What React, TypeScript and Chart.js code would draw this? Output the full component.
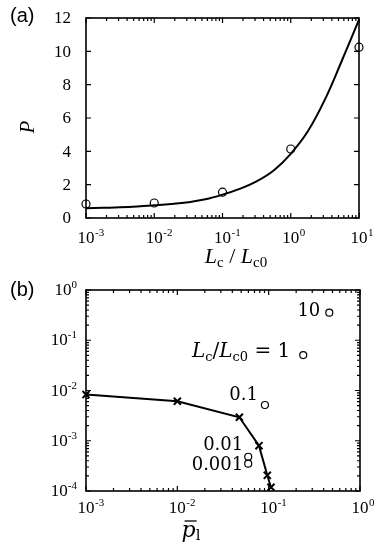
import React, { useEffect, useRef } from "react";
import { Chart, registerables } from "chart.js";
Chart.register(...registerables);

// ---------- Panel (a) data ----------
const curveRatio = [0.001, 0.00178, 0.00316, 0.00562, 0.01, 0.0178, 0.0316, 0.0562, 0.1, 0.178, 0.316, 0.562, 1, 1.78, 3.16, 5.62, 10];
const curveP = [0.58, 0.61, 0.64, 0.69, 0.76, 0.84, 0.95, 1.12, 1.4, 1.75, 2.2, 2.85, 3.85, 5.2, 7.1, 9.45, 11.9];
const markRatio = [0.001, 0.01, 0.1, 1, 10];
const markP = [0.84, 0.9, 1.55, 4.14, 10.25];
const aYTicks = [0, 2, 4, 6, 8, 10, 12];
const aXDecades = [-3, -2, -1, 0, 1];

// ---------- Panel (b) data ----------
const crossP1 = [0.001, 0.01, 0.0478, 0.0783, 0.0966, 0.106];
const crossPc = [0.0083, 0.0061, 0.00293, 0.000797, 0.000205, 0.000119];
const circleP1 = [0.0597, 0.0597, 0.091, 0.239, 0.461];
const circlePc = [0.00035, 0.00048, 0.00514, 0.0508, 0.354];
const circleLabels = ["0.001", "0.01", "0.1", "1", "10"];
const bXDecades = [-3, -2, -1, 0];
const bYDecades = [-4, -3, -2, -1, 0];

const TICK_FONT = '17px "Liberation Serif"';
const EXP_FONT = '11px "Liberation Serif"';
const ANN = '"DejaVu Serif"';

type Piece = { t: string; font: string; dy?: number; bar?: boolean };

function richWidth(ctx: CanvasRenderingContext2D, pieces: Piece[]) {
  let w = 0;
  for (const p of pieces) {
    ctx.font = p.font;
    w += ctx.measureText(p.t).width;
  }
  return w;
}

function drawRich(
  ctx: CanvasRenderingContext2D,
  pieces: Piece[],
  x: number,
  y: number,
  align: "left" | "center" | "right"
) {
  const w = richWidth(ctx, pieces);
  let cx = align === "left" ? x : align === "center" ? x - w / 2 : x - w;
  ctx.textAlign = "left";
  ctx.textBaseline = "alphabetic";
  for (const p of pieces) {
    ctx.font = p.font;
    const pw = ctx.measureText(p.t).width;
    ctx.fillText(p.t, cx, y + (p.dy || 0));
    if (p.bar) {
      ctx.save();
      ctx.lineWidth = 1.3;
      ctx.beginPath();
      ctx.moveTo(cx + 3, y - 16);
      ctx.lineTo(cx + pw + 1, y - 16);
      ctx.stroke();
      ctx.restore();
    }
    cx += pw;
  }
}

function logTicks(decades: number[]) {
  const out: { v: number; major: boolean }[] = [];
  for (let i = 0; i < decades.length; i++) {
    const base = Math.pow(10, decades[i]);
    out.push({ v: base, major: true });
    if (i < decades.length - 1) {
      for (let k = 2; k <= 9; k++) out.push({ v: k * base, major: false });
    }
  }
  return out;
}

function drawFrameAndTicks(
  chart: any,
  xt: { v: number; major: boolean }[],
  yt: { v: number; major: boolean }[]
) {
  const ctx: CanvasRenderingContext2D = chart.ctx;
  const { left, right, top, bottom } = chart.chartArea;
  const xs = chart.scales.x;
  const ys = chart.scales.y;
  ctx.save();
  ctx.strokeStyle = "#000";
  ctx.lineWidth = 1.2;
  ctx.beginPath();
  for (const t of xt) {
    const px = xs.getPixelForValue(t.v);
    const len = t.major ? 5 : 3;
    ctx.moveTo(px, bottom);
    ctx.lineTo(px, bottom - len);
    ctx.moveTo(px, top);
    ctx.lineTo(px, top + len);
  }
  for (const t of yt) {
    const py = ys.getPixelForValue(t.v);
    const len = t.major ? 5 : 3;
    ctx.moveTo(left, py);
    ctx.lineTo(left + len, py);
    ctx.moveTo(right, py);
    ctx.lineTo(right - len, py);
  }
  ctx.stroke();
  ctx.lineWidth = 1.6;
  ctx.strokeRect(left, top, right - left, bottom - top);
  ctx.restore();
}

function drawPowerLabelX(ctx: CanvasRenderingContext2D, x: number, y: number, e: number) {
  ctx.font = TICK_FONT;
  const w = ctx.measureText("10").width;
  ctx.textAlign = "left";
  ctx.textBaseline = "alphabetic";
  ctx.fillText("10", x - w / 2, y);
  ctx.font = EXP_FONT;
  ctx.fillText(String(e), x + w / 2 + 0.5, y - 7);
}

function drawPowerLabelY(ctx: CanvasRenderingContext2D, xr: number, y: number, e: number) {
  const pieces: Piece[] = [
    { t: "10", font: TICK_FONT },
    { t: String(e), font: EXP_FONT, dy: -7 },
  ];
  drawRich(ctx, pieces, xr, y, "right");
}

const panelAPlugin = {
  id: "panelA",
  beforeDatasetsDraw(chart: any) {
    drawFrameAndTicks(
      chart,
      logTicks(aXDecades),
      aYTicks.map((v) => ({ v, major: true }))
    );
  },
  afterDraw(chart: any) {
    const ctx: CanvasRenderingContext2D = chart.ctx;
    const { left, bottom } = chart.chartArea;
    const xs = chart.scales.x;
    const ys = chart.scales.y;
    ctx.save();
    ctx.fillStyle = "#000";
    ctx.font = TICK_FONT;
    ctx.textAlign = "right";
    ctx.textBaseline = "middle";
    for (const v of aYTicks) ctx.fillText(String(v), left - 15, ys.getPixelForValue(v) + 1);
    for (const e of aXDecades) drawPowerLabelX(ctx, xs.getPixelForValue(Math.pow(10, e)), bottom + 25, e);
    drawRich(
      ctx,
      [
        { t: "L", font: 'italic 22px "Liberation Serif"' },
        { t: "c", font: '15px "Liberation Serif"', dy: 4 },
        { t: " / ", font: '22px "Liberation Serif"' },
        { t: "L", font: 'italic 22px "Liberation Serif"' },
        { t: "c0", font: '15px "Liberation Serif"', dy: 4 },
      ],
      236,
      bottom + 45,
      "center"
    );
    ctx.translate(34, 127);
    ctx.rotate(-Math.PI / 2);
    drawRich(ctx, [{ t: "P", font: 'italic 21px "Liberation Serif"' }], 0, 0, "center");
    ctx.restore();
    ctx.save();
    ctx.fillStyle = "#000";
    ctx.font = '20px "Liberation Sans"';
    ctx.textAlign = "left";
    ctx.textBaseline = "alphabetic";
    ctx.fillText("(a)", 10, 22);
    ctx.restore();
  },
};

// label offsets (right edge / baseline relative to the circle centre)
const labelOffsets = [
  [-5, 6],
  [-5, -7],
  [-7, -5],
  [-13, 2],
  [-9, 3],
];

const panelBPlugin = {
  id: "panelB",
  beforeDatasetsDraw(chart: any) {
    drawFrameAndTicks(chart, logTicks(bXDecades), logTicks(bYDecades));
  },
  afterDraw(chart: any) {
    const ctx: CanvasRenderingContext2D = chart.ctx;
    const { left, bottom } = chart.chartArea;
    const xs = chart.scales.x;
    const ys = chart.scales.y;
    ctx.save();
    ctx.fillStyle = "#000";
    ctx.strokeStyle = "#000";
    for (const e of bXDecades) drawPowerLabelX(ctx, xs.getPixelForValue(Math.pow(10, e)), bottom + 22, e);
    for (const e of bYDecades) drawPowerLabelY(ctx, left - 9, ys.getPixelForValue(Math.pow(10, e)) + 5, e);

    const annFont = `18px ${ANN}`;
    const bigFont = `20px ${ANN}`;
    const annItal = `italic 20px ${ANN}`;
    const annSub = `13px ${ANN}`;
    for (let i = 0; i < circleLabels.length; i++) {
      const px = xs.getPixelForValue(circleP1[i]) + labelOffsets[i][0];
      const py = ys.getPixelForValue(circlePc[i]) + labelOffsets[i][1];
      const pieces: Piece[] =
        circleLabels[i] === "1"
          ? [
              { t: "L", font: annItal },
              { t: "c", font: annSub, dy: 4 },
              { t: "/", font: bigFont },
              { t: "L", font: annItal },
              { t: "c0", font: annSub, dy: 4 },
              { t: " = 1", font: bigFont },
            ]
          : [{ t: circleLabels[i], font: annFont }];
      drawRich(ctx, pieces, px, py, "right");
    }

    drawRich(
      ctx,
      [
        { t: "p", font: `italic 22px ${ANN}`, bar: true },
        { t: "l", font: `15px ${ANN}`, dy: 3 },
      ],
      191,
      bottom + 46,
      "center"
    );
    ctx.save();
    ctx.translate(32, 376);
    ctx.rotate(-Math.PI / 2);
    drawRich(
      ctx,
      [
        { t: "p", font: `italic 22px ${ANN}`, bar: true },
        { t: "c", font: `15px ${ANN}`, dy: 3 },
      ],
      0,
      0,
      "center"
    );
    ctx.restore();

    ctx.font = '20px "Liberation Sans"';
    ctx.textAlign = "left";
    ctx.textBaseline = "alphabetic";
    ctx.fillText("(b)", 10, 19);
    ctx.restore();
  },
};

export default function App() {
  const refA = useRef<HTMLCanvasElement>(null);
  const refB = useRef<HTMLCanvasElement>(null);

  useEffect(() => {
    const chartA = new Chart(refA.current!, {
      type: "line",
      data: {
        datasets: [
          {
            data: curveRatio.map((x, i) => ({ x, y: curveP[i] })),
            borderColor: "#000",
            borderWidth: 2,
            pointRadius: 0,
            tension: 0.4,
            fill: false,
            clip: false as any,
          },
          {
            data: markRatio.map((x, i) => ({ x, y: markP[i] })),
            showLine: false,
            pointStyle: "circle",
            pointRadius: 4,
            borderColor: "#000",
            backgroundColor: "rgba(0,0,0,0)",
            borderWidth: 1.2,
            clip: false as any,
          },
        ],
      },
      options: {
        responsive: false,
        animation: false,
        events: [],
        layout: { padding: { left: 86, right: 23, top: 18, bottom: 59 } },
        plugins: { legend: { display: false }, tooltip: { enabled: false } },
        scales: {
          x: { type: "logarithmic", min: 0.001, max: 10, display: false },
          y: { type: "linear", min: 0, max: 12, display: false },
        },
      },
      plugins: [panelAPlugin],
    });

    const chartB = new Chart(refB.current!, {
      type: "line",
      data: {
        datasets: [
          {
            data: crossP1.map((x, i) => ({ x, y: crossPc[i] })),
            borderColor: "#000",
            borderWidth: 2,
            pointStyle: "crossRot",
            pointRadius: 5,
            pointBorderWidth: 2,
            pointBorderColor: "#000",
            tension: 0,
            fill: false,
            clip: false as any,
          },
          {
            data: circleP1.map((x, i) => ({ x, y: circlePc[i] })),
            showLine: false,
            pointStyle: "circle",
            pointRadius: 3.5,
            borderColor: "#000",
            backgroundColor: "rgba(0,0,0,0)",
            borderWidth: 1.2,
            clip: false as any,
          },
        ],
      },
      options: {
        responsive: false,
        animation: false,
        events: [],
        layout: { padding: { left: 86, right: 22, top: 13, bottom: 63 } },
        plugins: { legend: { display: false }, tooltip: { enabled: false } },
        scales: {
          x: { type: "logarithmic", min: 0.001, max: 1, display: false },
          y: { type: "logarithmic", min: 0.0001, max: 1, display: false },
        },
      },
      plugins: [panelBPlugin],
    });

    return () => {
      chartA.destroy();
      chartB.destroy();
    };
  }, []);

  return (
    <div style={{ position: "absolute", left: 0, top: 0, width: 382, height: 554, background: "#fff" }}>
      <canvas ref={refA} width={382} height={277} style={{ display: "block", width: 382, height: 277 }} />
      <canvas ref={refB} width={382} height={277} style={{ display: "block", width: 382, height: 277 }} />
    </div>
  );
}
